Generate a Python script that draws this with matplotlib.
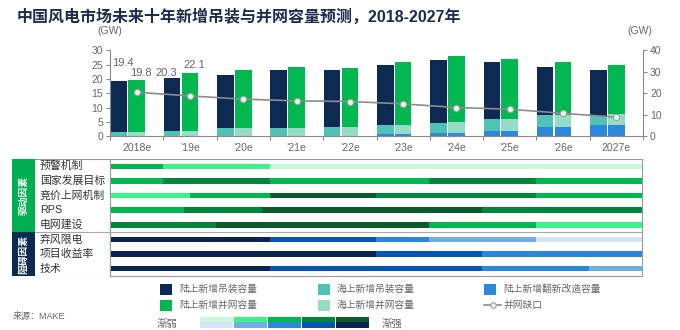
"""中国风电市场未来十年新增吊装与并网容量预测 (2018-2027)."""

import matplotlib

matplotlib.use("Agg")
import matplotlib.pyplot as plt
from matplotlib.patches import Rectangle
from matplotlib.lines import Line2D

plt.rcParams["font.family"] = ["Liberation Sans", "Noto Sans CJK SC"]

# ---- 数据 / data (GW) ----
years = ["2018e", "’19e", "’20e", "’21e", "’22e", "’23e", "’24e", "’25e", "’26e", "2027e"]
onshore_install = [17.8, 18.3, 18.7, 20.3, 20.0, 21.0, 22.0, 20.0, 16.8, 16.0]
offshore_install = [1.6, 2.0, 2.8, 3.0, 3.1, 3.2, 3.5, 4.1, 4.1, 3.1]
repower = [0.0, 0.0, 0.0, 0.0, 0.2, 0.8, 1.3, 2.0, 3.3, 3.9]
onshore_grid = [18.2, 20.1, 20.2, 21.4, 20.7, 21.9, 23.0, 20.8, 18.5, 17.2]
offshore_grid = [1.6, 2.0, 2.8, 2.8, 3.1, 3.2, 3.7, 4.2, 4.1, 3.9]
grid_gap = [20.5, 18.8, 17.3, 16.5, 16.2, 15.1, 13.4, 12.6, 10.7, 8.9]
labelled = [0, 1]  # 只标注前两年 / only first two years carry labels

# 因素强度: 分段端点 + 强度等级(1 渐弱 .. 5 渐强)
driver_names = ["预警机制", "国家发展目标", "竞价上网机制", "RPS", "电网建设"]
driver_breaks = [[0, 1, 3, 10], [0, 1, 3, 6, 8, 10], [0, 1.5, 3, 5, 8, 10],
                 [0, 1.4, 2.85, 7, 10], [0, 2, 6, 8, 10]]
driver_levels = [[3, 2, 1], [3, 4, 3, 4, 3], [2, 3, 5, 4, 3], [3, 4, 5, 4], [4, 5, 3, 2]]
barrier_names = ["弃风限电", "项目收益率", "技术"]
barrier_breaks = [[0, 3, 5, 6, 8, 10], [0, 5, 7, 10], [0, 3, 7, 9, 10]]
barrier_levels = [[5, 4, 3, 2, 1], [5, 4, 3], [5, 4, 3, 2]]

# ---- 样式 / styles ----
NAVY, GREEN, TEAL, LTEAL, BLUE = "#0c2a52", "#00b84f", "#4fc3b5", "#95dcc6", "#2a89dd"
GREENS = ["#c8f8da", "#3ef28a", "#00b850", "#00853c", "#0b5a2c"]
BLUES = ["#d4e5f8", "#6cb0e4", "#2a88dc", "#0256b4", "#0b2550"]
TXT = "#666666"
AX = "#8a8a8a"

W, H = 680, 330
fig = plt.figure(figsize=(W / 100, H / 100), dpi=100)


def box(x0, y0, x1, y1):
    """像素框 -> figure 坐标 / pixel box to figure rect."""
    return [x0 / W, 1 - y1 / H, (x1 - x0) / W, (y1 - y0) / H]


# ---- 柱状图 / bar chart ----
ax = fig.add_axes(box(110, 50.4, 643, 136.3))
n = len(years)
xs = list(range(n))
wd = 0.31
dark_x = [i + 0.165 for i in xs]
green_x = [i + 0.5 for i in xs]

base1 = [0.0] * n
for vals, col in [(repower, BLUE), (offshore_install, TEAL), (onshore_install, NAVY)]:
    ax.bar(dark_x, vals, wd, bottom=base1, color=col, linewidth=0)
    base1 = [b + v for b, v in zip(base1, vals)]
base2 = [0.0] * n
for vals, col in [(repower, BLUE), (offshore_grid, LTEAL), (onshore_grid, GREEN)]:
    ax.bar(green_x, vals, wd, bottom=base2, color=col, linewidth=0)
    base2 = [b + v for b, v in zip(base2, vals)]

offsets = {(0, 0): (2, 18, "left"), (0, 1): (4, 7, "center"),
           (1, 0): (-6, 5, "center"), (1, 1): (4, 8, "center")}
for i in labelled:
    for k, (bx, tot) in enumerate([(dark_x, base1), (green_x, base2)]):
        dx, dy, ha = offsets[(i, k)]
        x0 = i if ha == "left" else bx[i]
        ax.annotate(f"{tot[i]:.1f}", (x0, tot[i]), xytext=(dx, dy),
                    textcoords="offset pixels", ha=ha, va="center",
                    fontsize=8, color=TXT)

ax.set_xlim(0, n)
ax.set_ylim(0, 30)
ax.set_yticks(range(0, 31, 5))
ax.set_xticks(range(0, n + 1))
ax.set_xticklabels([])
ax.set_xticks([i + 0.5 for i in xs], minor=True)
ax.set_xticklabels(years, minor=True)
ax.tick_params(axis="x", which="major", length=3, color=AX)
ax.tick_params(axis="x", which="minor", length=0, pad=5, labelsize=7.5, labelcolor=TXT)
ax.tick_params(axis="y", length=3, color=AX, labelsize=7.5, labelcolor=TXT, pad=2)
for s in ["top", "right"]:
    ax.spines[s].set_visible(False)
for s in ["left", "bottom"]:
    ax.spines[s].set_color(AX)

ax2 = ax.twinx()
ax2.plot(green_x, grid_gap, color="#8c8c8c", lw=1.2, marker="o", ms=4.5,
         mfc="#eeeeee", mec="#a0a0a0", mew=0.8)
ax2.set_ylim(0, 40)
ax2.set_yticks(range(0, 41, 10))
ax2.tick_params(axis="y", length=3, color=AX, labelsize=7.5, labelcolor=TXT, pad=2)
for s in ["top", "left", "bottom"]:
    ax2.spines[s].set_visible(False)
ax2.spines["right"].set_color(AX)

# ---- 因素表 / factor table ----
names = driver_names + barrier_names
breaks = driver_breaks + barrier_breaks
levels = driver_levels + barrier_levels
n_drv = len(driver_names)

axt = fig.add_axes(box(110, 159, 642, 276))
for r, (bk, lv) in enumerate(zip(breaks, levels)):
    pal = GREENS if r < n_drv else BLUES
    for a, b, l in zip(bk[:-1], bk[1:], lv):
        axt.barh(r, b - a, left=a, height=0.38, color=pal[l - 1], linewidth=0)
axt.set_xlim(0, n)
axt.set_ylim(len(names) - 0.5, -0.5)
axt.set_xticks([])
axt.set_yticks([])
axt.axhline(n_drv - 0.5, color="#aaaaaa", lw=0.8)
for s in axt.spines.values():
    s.set_color("#999999")
    s.set_linewidth(0.8)

axl = fig.add_axes(box(12, 159, 110, 276))
axl.set_xlim(12, 110)
axl.set_ylim(len(names) - 0.5, -0.5)
axl.axis("off")
axl.add_patch(Rectangle((12, -0.5), 23, n_drv, color="#00b050", lw=0))
axl.add_patch(Rectangle((12, n_drv - 0.5), 23, len(names) - n_drv, color=NAVY, lw=0))
axl.plot([35, 110, 110, 35], [-0.5, -0.5, len(names) - 0.5, len(names) - 0.5],
         color="#999999", lw=0.8)
axl.plot([35, 110], [n_drv - 0.5, n_drv - 0.5], color="#aaaaaa", lw=0.8)
axl.text(23.5, (n_drv - 1) / 2, "驱动因素", rotation=90, ha="center", va="center",
         color="white", fontsize=7, fontweight="bold")
axl.text(23.5, n_drv + (len(names) - n_drv - 1) / 2, "阻碍因素", rotation=90,
         ha="center", va="center", color="white", fontsize=7, fontweight="bold")
for r, name in enumerate(names):
    axl.text(40, r, name, ha="left", va="center", fontsize=7.8, color="#333333")

# ---- 标题、单位、图例 / title, units, legend ----
axo = fig.add_axes([0, 0, 1, 1])
axo.set_xlim(0, W)
axo.set_ylim(H, 0)
axo.axis("off")
axo.text(17, 17, "中国风电市场未来十年新增吊装与并网容量预测，2018-2027年",
         ha="left", va="center", fontsize=11.5, fontweight="bold", color="#1d2c4c")
axo.text(110, 31, "(GW)", ha="center", va="center", fontsize=7.5, color=TXT)
axo.text(640, 31, "(GW)", ha="center", va="center", fontsize=7.5, color=TXT)

legend_items = [("陆上新增吊装容量", NAVY), ("海上新增吊装容量", TEAL),
                ("陆上新增翻新改造容量", BLUE), ("陆上新增并网容量", GREEN),
                ("海上新增并网容量", LTEAL), ("并网缺口", None)]
col_x = [160, 318, 484]
row_y = [289, 305]
for k, (lab, col) in enumerate(legend_items):
    x0, y0 = col_x[k % 3], row_y[k // 3]
    if col is None:
        axo.add_line(Line2D([x0, x0 + 17], [y0, y0], color="#8c8c8c", lw=1.2))
        axo.plot([x0 + 8.5], [y0], marker="o", ms=4, mfc="#eeeeee", mec="#a0a0a0", mew=0.8)
    else:
        axo.add_patch(Rectangle((x0, y0 - 5.5), 12, 11, color=col, lw=0))
    axo.text(x0 + 19, y0, lab, ha="left", va="center", fontsize=7, color=TXT)

axo.text(13, 317, "来源：MAKE", ha="left", va="center", fontsize=6.5, color=TXT)
axo.text(157, 324, "渐弱", ha="left", va="center", fontsize=7.5, color=TXT)
for j in range(5):
    gx = 200 + j * 34
    axo.add_patch(Rectangle((gx, 316.5), 33, 5.3, color=GREENS[j], lw=0))
    axo.add_patch(Rectangle((gx, 322.3), 33, 5.3, color=BLUES[j], lw=0))
axo.text(382, 324, "渐强", ha="left", va="center", fontsize=7.5, color=TXT)

fig.savefig("out.png", dpi=100)
